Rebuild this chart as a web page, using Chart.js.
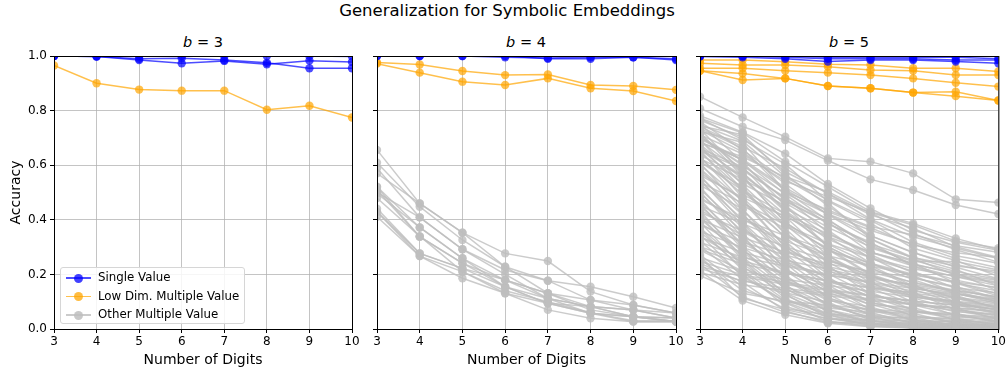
<!DOCTYPE html>
<html>
<head>
<meta charset="utf-8">
<script src="https://cdn.jsdelivr.net/npm/chart.js@4"></script>
<style>
  body { margin: 0; background: #fff; font-family: "DejaVu Sans", sans-serif; }
  #wrap { position: relative; width: 1007px; height: 374px; overflow: hidden; }
  canvas { position: absolute; }
  #mainTitle { position: absolute; left: 0; width: 1014px; top: 1px; text-align: center; font-size: 16.5px; color: #000; }
  .sub { position: absolute; top: 34px; width: 300px; text-align: center; font-size: 14.5px; color: #000; }
  .sub i { font-style: italic; }
  .legend { position: absolute; left: 60px; top: 267px; width: 183px; height: 55px; border: 1px solid #d6d6d6; border-radius: 3px; background: rgba(255,255,255,0.85); font-size: 11.8px; }
  .legend div { position: relative; height: 17.5px; line-height: 17.5px; padding-left: 37px; margin-top: 1px; white-space: nowrap; }
  .legend span.ln { position: absolute; left: 5px; top: 8px; width: 25px; height: 1.5px; }
  .legend span.dot { position: absolute; left: 12.5px; top: 4.5px; width: 9px; height: 9px; border-radius: 50%; }
</style>
</head>
<body>
<div id="wrap">
  <div id="mainTitle">Generalization for Symbolic Embeddings</div>
  <div class="sub" style="left:53px"><i>b</i> = 3</div>
  <div class="sub" style="left:376px"><i>b</i> = 4</div>
  <div class="sub" style="left:699px"><i>b</i> = 5</div>
  <canvas id="c3" width="362" height="334" style="left:0;top:40px"></canvas>
  <canvas id="c4" width="329" height="334" style="left:357px;top:40px"></canvas>
  <canvas id="c5" width="328" height="334" style="left:680px;top:40px"></canvas>
  <div class="legend">
    <div><span class="ln" style="background:rgba(0,0,255,0.7)"></span><span class="dot" style="background:rgba(0,0,255,0.75)"></span>Single Value</div>
    <div><span class="ln" style="background:rgba(255,165,0,0.7)"></span><span class="dot" style="background:rgba(255,165,0,0.75)"></span>Low Dim. Multiple Value</div>
    <div><span class="ln" style="background:rgba(190,190,190,0.8)"></span><span class="dot" style="background:rgba(190,190,190,0.85)"></span>Other Multiple Value</div>
  </div>
</div>
<script>
const digits = [3, 4, 5, 6, 7, 8, 9, 10];
const yTicks = [0.0, 0.2, 0.4, 0.6, 0.8, 1.0];
const bValues = [3, 4, 5];

// b = 3
const single3 = [
  [1.000, 1.000, 1.000, 1.000, 1.000, 1.000, 1.000, 0.998],
  [1.000, 0.998, 0.985, 0.973, 0.982, 0.970, 0.983, 0.978],
  [1.000, 0.998, 0.990, 0.992, 0.985, 0.975, 0.955, 0.955]
];
const lowDim3 = [
  [0.965, 0.900, 0.877, 0.873, 0.873, 0.803, 0.818, 0.775]
];
const other3 = [];

// b = 4
const single4 = [
  [1.000, 1.000, 1.000, 0.995, 0.993, 0.995, 0.995, 0.985],
  [1.000, 1.000, 1.000, 1.000, 0.990, 0.990, 0.995, 0.990]
];
const lowDim4 = [
  [0.976, 0.969, 0.945, 0.930, 0.932, 0.894, 0.890, 0.876],
  [0.972, 0.939, 0.906, 0.894, 0.918, 0.882, 0.872, 0.835]
];
const other4 = [
  [0.656, 0.460, 0.353, 0.277, 0.249, 0.137, 0.088, 0.059],
  [0.609, 0.448, 0.326, 0.228, 0.177, 0.155, 0.118, 0.077],
  [0.589, 0.409, 0.292, 0.216, 0.177, 0.106, 0.070, 0.059],
  [0.570, 0.460, 0.353, 0.228, 0.131, 0.082, 0.070, 0.040],
  [0.521, 0.372, 0.259, 0.179, 0.131, 0.106, 0.088, 0.059],
  [0.509, 0.338, 0.241, 0.179, 0.112, 0.082, 0.045, 0.040],
  [0.497, 0.372, 0.259, 0.155, 0.112, 0.058, 0.045, 0.027],
  [0.441, 0.277, 0.222, 0.155, 0.094, 0.058, 0.027, 0.027],
  [0.429, 0.267, 0.210, 0.131, 0.070, 0.039, 0.027, 0.027],
  [0.411, 0.267, 0.186, 0.131, 0.094, 0.058, 0.045, 0.027],
  [0.520, 0.338, 0.241, 0.155, 0.094, 0.082, 0.070, 0.040],
  [0.500, 0.409, 0.292, 0.200, 0.112, 0.082, 0.045, 0.040],
  [0.430, 0.277, 0.222, 0.180, 0.130, 0.070, 0.045, 0.027],
  [0.480, 0.340, 0.210, 0.140, 0.100, 0.060, 0.030, 0.030]
];

// b = 5
const single5 = [
  [1.000, 1.000, 1.000, 0.995, 0.995, 0.995, 0.995, 0.990],
  [0.998, 0.995, 0.990, 0.980, 0.985, 0.985, 0.980, 0.973],
  [1.000, 1.000, 0.995, 0.990, 0.990, 0.990, 0.985, 0.985]
];
const lowDim5 = [
  [0.985, 0.985, 0.979, 0.970, 0.967, 0.955, 0.955, 0.943],
  [0.973, 0.967, 0.967, 0.961, 0.949, 0.946, 0.930, 0.930],
  [0.955, 0.955, 0.946, 0.939, 0.930, 0.918, 0.902, 0.888],
  [0.946, 0.912, 0.918, 0.890, 0.882, 0.866, 0.869, 0.837],
  [0.946, 0.936, 0.918, 0.890, 0.882, 0.866, 0.853, 0.837]
];
const other5 = [
  [0.851, 0.775, 0.704, 0.625, 0.613, 0.570, 0.475, 0.463],
  [0.808, 0.741, 0.692, 0.617, 0.548, 0.509, 0.454, 0.421],
  [0.772, 0.718, 0.613, 0.521, 0.430, 0.387, 0.332, 0.290],
  [0.765, 0.702, 0.576, 0.497, 0.418, 0.369, 0.301, 0.262],
  [0.748, 0.688, 0.558, 0.503, 0.425, 0.350, 0.290, 0.245],
  [0.735, 0.662, 0.503, 0.436, 0.375, 0.345, 0.305, 0.281],
  [0.712, 0.641, 0.541, 0.485, 0.427, 0.381, 0.322, 0.296],
  [0.684, 0.622, 0.518, 0.430, 0.371, 0.308, 0.279, 0.262],
  [0.706, 0.598, 0.497, 0.421, 0.362, 0.311, 0.258, 0.224],
  [0.652, 0.587, 0.478, 0.402, 0.297, 0.247, 0.247, 0.216],
  [0.682, 0.631, 0.556, 0.472, 0.398, 0.318, 0.268, 0.241],
  [0.741, 0.668, 0.588, 0.496, 0.402, 0.338, 0.296, 0.258],
  [0.771, 0.694, 0.604, 0.468, 0.388, 0.296, 0.251, 0.193],
  [0.744, 0.712, 0.566, 0.452, 0.342, 0.281, 0.226, 0.184],
  [0.759, 0.655, 0.548, 0.461, 0.331, 0.262, 0.218, 0.158],
  [0.729, 0.649, 0.532, 0.418, 0.329, 0.258, 0.197, 0.171],
  [0.724, 0.683, 0.505, 0.398, 0.309, 0.236, 0.206, 0.138],
  [0.696, 0.618, 0.493, 0.384, 0.318, 0.229, 0.179, 0.149],
  [0.703, 0.603, 0.471, 0.391, 0.281, 0.241, 0.168, 0.121],
  [0.715, 0.581, 0.482, 0.353, 0.272, 0.206, 0.171, 0.128],
  [0.688, 0.572, 0.441, 0.362, 0.258, 0.212, 0.149, 0.108],
  [0.661, 0.594, 0.433, 0.329, 0.263, 0.187, 0.156, 0.112],
  [0.676, 0.549, 0.419, 0.311, 0.238, 0.196, 0.131, 0.093],
  [0.659, 0.532, 0.452, 0.302, 0.221, 0.169, 0.138, 0.098],
  [0.637, 0.561, 0.391, 0.288, 0.232, 0.158, 0.112, 0.079],
  [0.648, 0.508, 0.378, 0.296, 0.201, 0.149, 0.124, 0.072],
  [0.627, 0.493, 0.412, 0.268, 0.189, 0.162, 0.098, 0.068],
  [0.613, 0.521, 0.351, 0.251, 0.198, 0.129, 0.091, 0.081],
  [0.602, 0.468, 0.338, 0.271, 0.168, 0.118, 0.102, 0.056],
  [0.588, 0.452, 0.368, 0.226, 0.152, 0.134, 0.071, 0.047],
  [0.571, 0.476, 0.301, 0.213, 0.171, 0.097, 0.063, 0.052],
  [0.556, 0.418, 0.288, 0.232, 0.128, 0.086, 0.077, 0.036],
  [0.541, 0.402, 0.322, 0.185, 0.117, 0.104, 0.049, 0.031],
  [0.527, 0.439, 0.261, 0.172, 0.136, 0.069, 0.043, 0.038],
  [0.512, 0.371, 0.247, 0.191, 0.097, 0.061, 0.058, 0.022],
  [0.498, 0.357, 0.276, 0.148, 0.088, 0.079, 0.032, 0.019],
  [0.482, 0.388, 0.219, 0.137, 0.109, 0.047, 0.028, 0.026],
  [0.466, 0.326, 0.208, 0.162, 0.071, 0.041, 0.039, 0.013],
  [0.451, 0.312, 0.241, 0.115, 0.063, 0.058, 0.019, 0.011],
  [0.437, 0.341, 0.182, 0.104, 0.082, 0.031, 0.016, 0.018],
  [0.421, 0.281, 0.169, 0.128, 0.049, 0.026, 0.029, 0.008],
  [0.405, 0.268, 0.198, 0.086, 0.043, 0.042, 0.011, 0.006],
  [0.388, 0.292, 0.146, 0.077, 0.061, 0.018, 0.009, 0.012],
  [0.371, 0.238, 0.133, 0.099, 0.031, 0.015, 0.021, 0.004],
  [0.356, 0.224, 0.162, 0.061, 0.027, 0.033, 0.006, 0.003],
  [0.339, 0.251, 0.111, 0.054, 0.046, 0.010, 0.005, 0.009],
  [0.322, 0.196, 0.101, 0.072, 0.019, 0.008, 0.014, 0.002],
  [0.305, 0.181, 0.128, 0.041, 0.016, 0.024, 0.003, 0.002],
  [0.289, 0.212, 0.083, 0.036, 0.034, 0.006, 0.003, 0.007],
  [0.272, 0.154, 0.074, 0.052, 0.011, 0.005, 0.011, 0.001],
  [0.256, 0.141, 0.096, 0.027, 0.009, 0.016, 0.002, 0.001],
  [0.241, 0.172, 0.066, 0.023, 0.024, 0.003, 0.002, 0.005],
  [0.402, 0.335, 0.281, 0.238, 0.212, 0.188, 0.151, 0.132],
  [0.358, 0.298, 0.252, 0.219, 0.184, 0.162, 0.139, 0.118],
  [0.318, 0.262, 0.231, 0.197, 0.171, 0.148, 0.128, 0.105],
  [0.291, 0.238, 0.204, 0.176, 0.152, 0.131, 0.112, 0.091],
  [0.262, 0.211, 0.182, 0.159, 0.138, 0.116, 0.098, 0.082],
  [0.228, 0.192, 0.163, 0.141, 0.121, 0.102, 0.088, 0.071],
  [0.208, 0.162, 0.141, 0.122, 0.104, 0.089, 0.076, 0.062],
  [0.195, 0.131, 0.102, 0.088, 0.072, 0.061, 0.052, 0.044],
  [0.452, 0.386, 0.322, 0.268, 0.231, 0.198, 0.172, 0.152],
  [0.538, 0.461, 0.382, 0.312, 0.262, 0.221, 0.192, 0.168],
  [0.612, 0.508, 0.421, 0.348, 0.281, 0.239, 0.201, 0.178],
  [0.752, 0.612, 0.452, 0.338, 0.241, 0.181, 0.129, 0.101],
  [0.733, 0.571, 0.431, 0.302, 0.226, 0.152, 0.118, 0.077],
  [0.718, 0.559, 0.391, 0.291, 0.197, 0.146, 0.092, 0.071],
  [0.694, 0.528, 0.382, 0.259, 0.184, 0.121, 0.089, 0.054],
  [0.671, 0.511, 0.347, 0.246, 0.161, 0.114, 0.071, 0.052],
  [0.655, 0.481, 0.336, 0.214, 0.149, 0.091, 0.068, 0.039],
  [0.631, 0.467, 0.301, 0.203, 0.126, 0.088, 0.052, 0.038],
  [0.608, 0.436, 0.293, 0.178, 0.118, 0.069, 0.049, 0.028],
  [0.586, 0.421, 0.259, 0.169, 0.098, 0.066, 0.037, 0.029],
  [0.563, 0.391, 0.249, 0.143, 0.091, 0.049, 0.034, 0.018],
  [0.548, 0.379, 0.221, 0.136, 0.073, 0.047, 0.025, 0.019],
  [0.521, 0.349, 0.214, 0.114, 0.068, 0.035, 0.024, 0.012],
  [0.503, 0.336, 0.188, 0.109, 0.054, 0.033, 0.017, 0.013],
  [0.476, 0.301, 0.179, 0.091, 0.051, 0.024, 0.016, 0.007],
  [0.459, 0.293, 0.158, 0.088, 0.041, 0.025, 0.011, 0.009],
  [0.432, 0.262, 0.149, 0.071, 0.038, 0.017, 0.012, 0.005],
  [0.414, 0.255, 0.131, 0.069, 0.029, 0.018, 0.007, 0.006],
  [0.391, 0.229, 0.124, 0.056, 0.028, 0.012, 0.008, 0.003],
  [0.366, 0.216, 0.106, 0.052, 0.021, 0.011, 0.005, 0.004],
  [0.345, 0.192, 0.099, 0.042, 0.019, 0.008, 0.006, 0.002],
  [0.475, 0.402, 0.341, 0.288, 0.241, 0.201, 0.168, 0.139],
  [0.428, 0.359, 0.302, 0.251, 0.208, 0.171, 0.142, 0.117],
  [0.382, 0.318, 0.271, 0.229, 0.192, 0.158, 0.131, 0.108],
  [0.336, 0.281, 0.236, 0.201, 0.168, 0.139, 0.116, 0.096],
  [0.301, 0.249, 0.208, 0.176, 0.149, 0.124, 0.102, 0.086],
  [0.248, 0.198, 0.171, 0.146, 0.124, 0.103, 0.087, 0.073],
  [0.222, 0.176, 0.149, 0.128, 0.109, 0.092, 0.078, 0.066],
  [0.563, 0.482, 0.411, 0.338, 0.281, 0.231, 0.191, 0.158],
  [0.661, 0.561, 0.461, 0.372, 0.301, 0.252, 0.211, 0.181],
  [0.702, 0.618, 0.511, 0.421, 0.342, 0.279, 0.236, 0.204],
  [0.781, 0.721, 0.642, 0.531, 0.442, 0.362, 0.318, 0.288],
  [0.624, 0.548, 0.468, 0.388, 0.311, 0.262, 0.231, 0.212],
  [0.212, 0.104, 0.052, 0.021, 0.008, 0.004, 0.002, 0.001],
  [0.238, 0.118, 0.061, 0.029, 0.012, 0.005, 0.003, 0.002],
  [0.267, 0.112, 0.071, 0.038, 0.016, 0.009, 0.004, 0.002]
];

const BLUE = 'rgba(0,0,255,0.7)';
const ORANGE = 'rgba(255,165,0,0.7)';
const GRAY = 'rgba(190,190,190,0.8)';

function makeSets(single, lowDim, other) {
  const sets = [];
  const add = (rows, color, order) => rows.forEach(r => sets.push({
    data: r.map((v, i) => ({ x: digits[i], y: v })),
    borderColor: color,
    backgroundColor: color,
    pointBackgroundColor: color,
    borderWidth: 1.5,
    pointRadius: 4.2,
    pointBorderWidth: 0,
    order: order,
    clip: 0
  }));
  add(single, BLUE, 0);
  add(lowDim, ORANGE, 1);
  add(other, GRAY, 2);
  return sets;
}

// black box around each plot, like the spines
const frame = {
  id: 'frame',
  afterDatasetsDraw(chart) {
    const a = chart.chartArea, c = chart.ctx;
    c.save();
    c.strokeStyle = '#000';
    c.lineWidth = 1;
    c.strokeRect(a.left + 0.5, a.top + 0.5, a.right - a.left, a.bottom - a.top);
    c.restore();
  }
};

function drawPanel(id, sets, first, yWidth, padRight) {
  new Chart(document.getElementById(id), {
    type: 'line',
    data: { datasets: sets },
    options: {
      responsive: false,
      animation: false,
      events: [],
      layout: { padding: { top: 16, right: padRight, bottom: 0, left: 0 } },
      plugins: { legend: { display: false }, tooltip: { enabled: false } },
      scales: {
        x: {
          type: 'linear', min: 3, max: 10,
          afterBuildTicks: s => { s.ticks = digits.map(v => ({ value: v })); },
          afterFit: s => { s.height = 45; },
          border: { display: false },
          grid: { color: 'rgba(176,176,176,0.75)', lineWidth: 1, tickLength: 4, tickColor: '#000' },
          ticks: { color: '#000', padding: 2, maxRotation: 0, font: { family: 'DejaVu Sans', size: 12 } },
          title: { display: true, text: 'Number of Digits', color: '#000', padding: { top: 0, bottom: 5 }, font: { family: 'DejaVu Sans', size: 14 } }
        },
        y: {
          min: 0, max: 1,
          afterBuildTicks: s => { s.ticks = yTicks.map(v => ({ value: v })); },
          afterFit: s => { s.width = yWidth; },
          border: { display: false },
          grid: { color: 'rgba(176,176,176,0.75)', lineWidth: 1, tickLength: 4, tickColor: '#000' },
          ticks: { color: '#000', padding: 3, font: { family: 'DejaVu Sans', size: 12 },
                   callback: v => first ? v.toFixed(1) : '' },
          title: { display: first, text: 'Accuracy', color: '#000', padding: { top: 8, bottom: 8 }, font: { family: 'DejaVu Sans', size: 14 } }
        }
      }
    },
    plugins: [frame]
  });
}

drawPanel('c3', makeSets(single3, lowDim3, other3), true, 54, 10);
drawPanel('c4', makeSets(single4, lowDim4, other4), false, 20, 10);
drawPanel('c5', makeSets(single5, lowDim5, other5), false, 20, 9);
</script>
</body>
</html>
